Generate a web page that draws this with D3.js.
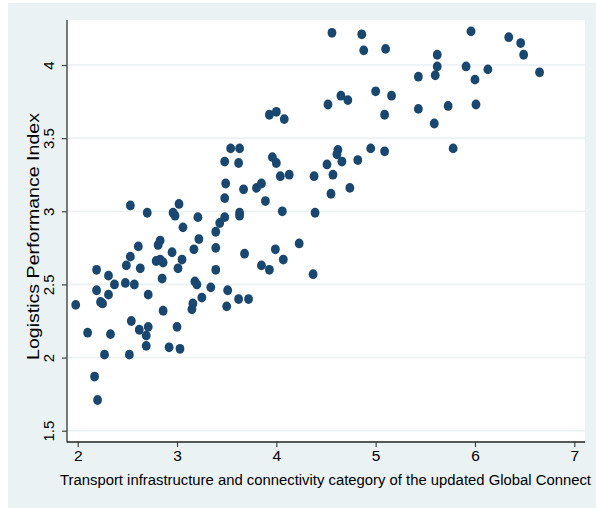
<!DOCTYPE html>
<html>
<head>
<meta charset="utf-8">
<script src="https://cdn.jsdelivr.net/npm/d3@7"></script>
<style>
  html, body { margin: 0; padding: 0; background: #ffffff; }
  svg { display: block; }
  text { font-family: "Liberation Sans", Arial, sans-serif; fill: #000; }
</style>
</head>
<body>
<svg id="chart" width="596" height="508"></svg>
<script>
// Transport infrastructure & connectivity score (x) per country
const connectScore = [
  1.98, 2.10, 2.17, 2.20, 2.19, 2.19, 2.23, 2.25, 2.27, 2.31,
  2.31, 2.33, 2.37, 2.48, 2.49, 2.52, 2.53, 2.53, 2.54, 2.57,
  2.61, 2.62, 2.63, 2.69, 2.69, 2.70, 2.71, 2.71, 2.79, 2.81,
  2.83, 2.83, 2.86, 2.85, 2.86, 2.92, 2.95, 2.96, 2.98, 3.00,
  3.01, 3.02, 3.03, 3.05, 3.06, 3.15, 3.16, 3.17, 3.18, 3.20,
  3.21, 3.22, 3.25, 3.34, 3.39, 3.39, 3.39, 3.43, 3.48, 3.48,
  3.49, 3.50, 3.51, 3.62, 3.63, 3.63, 3.67, 3.68, 3.72, 3.48,
  3.54, 3.62, 3.63, 3.80, 3.85, 3.89, 3.85, 3.93, 3.96, 4.00,
  3.99, 4.04, 4.06, 4.07, 4.13, 4.23, 3.93, 4.00, 4.08, 4.37,
  4.38, 4.39, 4.51, 4.52, 4.55, 4.57, 4.56, 4.62, 4.61, 4.65,
  4.72, 4.66, 4.74, 4.82, 4.86, 4.88, 4.95, 5.00, 5.09, 5.09,
  5.10, 5.16, 5.43, 5.43, 5.59, 5.60, 5.62, 5.62, 5.73, 5.78,
  5.91, 5.96, 6.00, 6.01, 6.13, 6.34, 6.46, 6.49, 6.65
];

// Logistics Performance Index (y) for the same countries
const lpiScore = [
  2.36, 2.17, 1.87, 1.71, 2.60, 2.46, 2.38, 2.37, 2.02, 2.56,
  2.43, 2.16, 2.50, 2.51, 2.63, 2.02, 3.04, 2.69, 2.25, 2.50,
  2.76, 2.19, 2.61, 2.15, 2.08, 2.99, 2.43, 2.21, 2.66, 2.77,
  2.80, 2.67, 2.65, 2.54, 2.32, 2.07, 2.72, 2.99, 2.97, 2.21,
  2.61, 3.05, 2.06, 2.67, 2.89, 2.33, 2.37, 2.74, 2.52, 2.50,
  2.96, 2.81, 2.41, 2.48, 2.86, 2.75, 2.60, 2.92, 2.96, 3.09,
  3.19, 2.35, 2.46, 2.40, 2.99, 2.97, 3.15, 2.71, 2.40, 3.34,
  3.43, 3.33, 3.43, 3.16, 3.19, 3.07, 2.63, 2.60, 3.37, 3.33,
  2.74, 3.24, 3.00, 2.67, 3.25, 2.78, 3.66, 3.68, 3.63, 2.57,
  3.24, 2.99, 3.32, 3.73, 3.12, 3.25, 4.22, 3.42, 3.39, 3.79,
  3.76, 3.34, 3.16, 3.35, 4.21, 4.10, 3.43, 3.82, 3.66, 3.41,
  4.11, 3.79, 3.92, 3.70, 3.60, 3.93, 4.07, 3.99, 3.72, 3.43,
  3.99, 4.23, 3.90, 3.73, 3.97, 4.19, 4.15, 4.07, 3.95
];

const xTicks = [2, 3, 4, 5, 6, 7];
const yTicks = [1.5, 2, 2.5, 3, 3.5, 4];
const xTitle = "Transport infrastructure and connectivity category of the updated Global Connect";
const yTitle = "Logistics Performance Index";

const svg = d3.select("#chart");
const W = 596, H = 508;

// plot region (white) and outer graph region
const plot = { left: 67, right: 585, top: 20, bottom: 442 };
const bgColor = "#eaf2f3";
const markColor = "#1a476f";

svg.append("rect")
  .attr("x", 8).attr("y", 3)
  .attr("width", W - 8).attr("height", H - 3)
  .attr("fill", bgColor);

svg.append("rect")
  .attr("x", plot.left).attr("y", plot.top)
  .attr("width", plot.right - plot.left).attr("height", plot.bottom - plot.top)
  .attr("fill", "#ffffff");

const x = d3.scaleLinear().domain([2, 7]).range([77.7, 574.3]);
const y = d3.scaleLinear().domain([1.5, 4]).range([430.7, 65]);

// horizontal grid lines
svg.append("g")
  .selectAll("line")
  .data(yTicks)
  .join("line")
  .attr("x1", plot.left + 1).attr("x2", plot.right)
  .attr("y1", d => y(d)).attr("y2", d => y(d))
  .attr("stroke", bgColor)
  .attr("stroke-width", 1.6);

// points
const pts = connectScore.map((v, i) => ({ x: v, y: lpiScore[i] }));
svg.append("g")
  .selectAll("ellipse")
  .data(pts)
  .join("ellipse")
  .attr("cx", d => x(d.x))
  .attr("cy", d => y(d.y))
  .attr("rx", 4.4)
  .attr("ry", 4.9)
  .attr("fill", markColor);

// x axis
const xAxis = svg.append("g")
  .attr("transform", `translate(0,${plot.bottom})`)
  .call(d3.axisBottom(x).tickValues(xTicks).tickSize(5).tickPadding(3).tickFormat(d3.format("d")));
xAxis.select(".domain").remove();
xAxis.selectAll(".tick line").attr("stroke", "#444").attr("stroke-width", 1.2);
xAxis.selectAll(".tick text")
  .attr("font-size", 15.5)
  .attr("font-family", "Liberation Sans, Arial, sans-serif")
  .attr("fill", "#000");

// y axis
const yAxis = svg.append("g")
  .attr("transform", `translate(${plot.left},0)`)
  .call(d3.axisLeft(y).tickValues(yTicks).tickSize(5).tickFormat(d => d3.format("")(d)));
yAxis.select(".domain").remove();
yAxis.selectAll(".tick line").attr("stroke", "#444").attr("stroke-width", 1.2);
yAxis.selectAll(".tick text")
  .attr("x", null).attr("dy", null)
  .attr("transform", "translate(-13,0) rotate(-90)")
  .attr("text-anchor", "middle")
  .attr("font-size", 15)
  .attr("font-family", "Liberation Sans, Arial, sans-serif")
  .attr("fill", "#000");

// axis lines
svg.append("line")
  .attr("x1", plot.left).attr("x2", plot.left)
  .attr("y1", plot.top).attr("y2", plot.bottom + 0.5)
  .attr("stroke", "#444").attr("stroke-width", 1.4);
svg.append("line")
  .attr("x1", plot.left).attr("x2", plot.right)
  .attr("y1", plot.bottom).attr("y2", plot.bottom)
  .attr("stroke", "#222").attr("stroke-width", 1.4);

// axis titles
svg.append("text")
  .attr("x", 60).attr("y", 485)
  .attr("font-size", 15.5)
  .attr("textLength", 531)
  .attr("lengthAdjust", "spacingAndGlyphs")
  .text(xTitle);

svg.append("text")
  .attr("transform", "translate(38.5,360) rotate(-90)")
  .attr("font-size", 17)
  .attr("textLength", 247)
  .attr("lengthAdjust", "spacingAndGlyphs")
  .text(yTitle);
</script>
</body>
</html>
